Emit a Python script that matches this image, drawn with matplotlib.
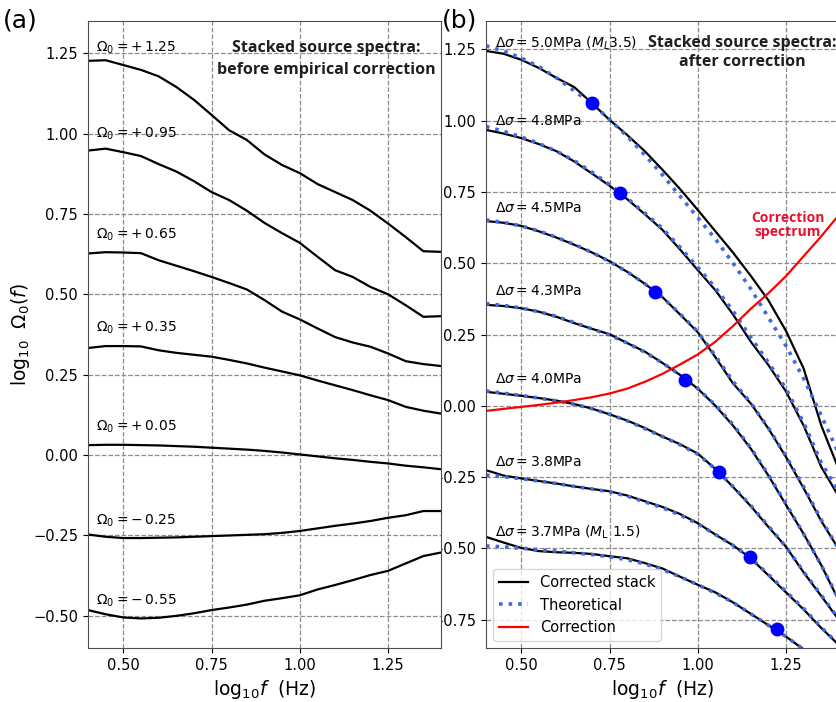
import numpy as np
import matplotlib.pyplot as plt

# frecuencias (log10 f) comunes a todas las curvas
logf = [0.40, 0.45, 0.50, 0.55, 0.60, 0.65, 0.70, 0.75, 0.80, 0.85, 0.90,
        0.95, 1.00, 1.05, 1.10, 1.15, 1.20, 1.25, 1.30, 1.35, 1.40]

# panel (a): espectros apilados antes de la correccion
antes_labels = [r"+\:1.25", r"+\:0.95", r"+\:0.65", r"+\:0.35", r"+\:0.05", r"-\:0.25", r"-\:0.55"]
antes_label_y = [1.267, 1.000, 0.684, 0.395, 0.088, -0.205, -0.453]
antes_1 = [1.226, 1.228, 1.213, 1.198, 1.178, 1.145, 1.105, 1.058, 1.010, 0.980, 0.935,
           0.902, 0.877, 0.843, 0.818, 0.793, 0.760, 0.720, 0.678, 0.634, 0.632]
antes_2 = [0.947, 0.953, 0.942, 0.930, 0.905, 0.882, 0.852, 0.818, 0.793, 0.760, 0.722,
           0.690, 0.660, 0.617, 0.575, 0.554, 0.523, 0.500, 0.466, 0.430, 0.432]
antes_3 = [0.627, 0.631, 0.630, 0.628, 0.606, 0.589, 0.572, 0.554, 0.535, 0.515, 0.482,
           0.446, 0.422, 0.394, 0.367, 0.350, 0.337, 0.316, 0.292, 0.283, 0.277]
antes_4 = [0.333, 0.339, 0.339, 0.338, 0.326, 0.318, 0.312, 0.306, 0.296, 0.285, 0.272,
           0.260, 0.248, 0.232, 0.217, 0.202, 0.186, 0.171, 0.150, 0.138, 0.129]
antes_5 = [0.031, 0.032, 0.032, 0.031, 0.030, 0.028, 0.026, 0.023, 0.020, 0.017, 0.013,
           0.008, 0.002, -0.004, -0.010, -0.015, -0.021, -0.026, -0.033, -0.038, -0.044]
antes_6 = [-0.247, -0.254, -0.258, -0.258, -0.257, -0.256, -0.254, -0.252, -0.250, -0.248, -0.246,
           -0.242, -0.236, -0.228, -0.220, -0.213, -0.205, -0.195, -0.187, -0.174, -0.174]
antes_7 = [-0.482, -0.495, -0.505, -0.508, -0.506, -0.500, -0.492, -0.482, -0.474, -0.465, -0.453,
           -0.445, -0.436, -0.418, -0.404, -0.389, -0.373, -0.360, -0.337, -0.314, -0.303]

# panel (b): espectros corregidos (negro) y teoricos (azul)
despues_labels = [r"$\Delta\sigma = 5.0$MPa ($M_L$3.5)", r"$\Delta\sigma = 4.8$MPa",
                  r"$\Delta\sigma = 4.5$MPa", r"$\Delta\sigma = 4.3$MPa",
                  r"$\Delta\sigma = 4.0$MPa", r"$\Delta\sigma = 3.8$MPa",
                  r"$\Delta\sigma = 3.7$MPa ($M_\mathrm{L}$ 1.5)"]
despues_label_y = [1.272, 1.000, 0.693, 0.404, 0.094, -0.199, -0.445]

corr_A = [1.245, 1.235, 1.214, 1.185, 1.150, 1.118, 1.062, 1.003, 0.950, 0.893, 0.828,
          0.760, 0.687, 0.612, 0.537, 0.456, 0.370, 0.262, 0.130, -0.070, -0.225]
corr_B = [0.968, 0.955, 0.939, 0.918, 0.893, 0.857, 0.815, 0.772, 0.725, 0.672, 0.617,
          0.548, 0.476, 0.405, 0.320, 0.225, 0.143, 0.050, -0.070, -0.215, -0.320]
corr_C = [0.648, 0.642, 0.631, 0.612, 0.590, 0.565, 0.538, 0.507, 0.470, 0.428, 0.381,
          0.320, 0.258, 0.170, 0.078, 0.008, -0.080, -0.180, -0.290, -0.405, -0.505]
corr_D = [0.354, 0.350, 0.342, 0.330, 0.312, 0.290, 0.270, 0.251, 0.220, 0.190, 0.150,
          0.108, 0.060, 0.000, -0.070, -0.150, -0.245, -0.348, -0.450, -0.560, -0.685]
corr_E = [0.049, 0.042, 0.035, 0.027, 0.018, 0.006, -0.010, -0.030, -0.052, -0.078, -0.108,
          -0.135, -0.168, -0.222, -0.285, -0.352, -0.425, -0.495, -0.585, -0.668, -0.752]
corr_F = [-0.226, -0.245, -0.255, -0.264, -0.273, -0.283, -0.292, -0.300, -0.315, -0.335, -0.355,
          -0.380, -0.412, -0.452, -0.490, -0.535, -0.595, -0.655, -0.715, -0.780, -0.840]
corr_G = [-0.460, -0.480, -0.499, -0.510, -0.514, -0.516, -0.520, -0.528, -0.535, -0.552, -0.571,
          -0.600, -0.628, -0.655, -0.690, -0.730, -0.770, -0.810, -0.855, -0.900, -0.950]

teo_A = [1.263, 1.245, 1.220, 1.190, 1.150, 1.105, 1.060, 1.005, 0.945, 0.880, 0.810,
         0.735, 0.660, 0.585, 0.500, 0.410, 0.310, 0.210, 0.095, -0.035, -0.170]
teo_B = [0.980, 0.963, 0.943, 0.920, 0.893, 0.860, 0.820, 0.776, 0.728, 0.676, 0.622,
         0.556, 0.486, 0.414, 0.332, 0.240, 0.152, 0.060, -0.060, -0.200, -0.305]
teo_C = [0.652, 0.643, 0.631, 0.613, 0.591, 0.566, 0.538, 0.506, 0.470, 0.428, 0.380,
         0.322, 0.260, 0.175, 0.085, 0.010, -0.078, -0.178, -0.285, -0.400, -0.505]
teo_D = [0.358, 0.352, 0.343, 0.330, 0.313, 0.292, 0.270, 0.248, 0.220, 0.188, 0.150,
         0.108, 0.060, 0.002, -0.066, -0.148, -0.242, -0.345, -0.450, -0.560, -0.680]
teo_E = [0.052, 0.044, 0.036, 0.027, 0.017, 0.005, -0.010, -0.030, -0.053, -0.080, -0.108,
         -0.137, -0.170, -0.222, -0.284, -0.350, -0.422, -0.495, -0.583, -0.665, -0.750]
teo_F = [-0.243, -0.249, -0.256, -0.264, -0.273, -0.283, -0.292, -0.302, -0.317, -0.337, -0.358,
         -0.383, -0.414, -0.452, -0.490, -0.535, -0.592, -0.652, -0.712, -0.778, -0.838]
teo_G = [-0.492, -0.495, -0.500, -0.505, -0.510, -0.516, -0.522, -0.530, -0.540, -0.555, -0.575,
         -0.600, -0.628, -0.657, -0.690, -0.730, -0.770, -0.810, -0.855, -0.900, -0.950]

# frecuencias de esquina (puntos azules)
fc_x = [0.699, 0.781, 0.880, 0.965, 1.059, 1.147, 1.223]
fc_y = [1.063, 0.747, 0.400, 0.090, -0.232, -0.532, -0.784]

# espectro de correccion (rojo)
correccion = [-0.018, -0.011, -0.004, 0.003, 0.011, 0.020, 0.030, 0.043, 0.060, 0.084, 0.112,
              0.145, 0.180, 0.225, 0.280, 0.340, 0.395, 0.455, 0.525, 0.595, 0.670]

antes = [antes_1, antes_2, antes_3, antes_4, antes_5, antes_6, antes_7]
corregidos = [corr_A, corr_B, corr_C, corr_D, corr_E, corr_F, corr_G]
teoricos = [teo_A, teo_B, teo_C, teo_D, teo_E, teo_F, teo_G]

fig = plt.figure(figsize=(8.37, 7.02), dpi=100)
ax1 = fig.add_axes([0.1051, 0.0769, 0.4218, 0.8932])
ax2 = fig.add_axes([0.5806, 0.0769, 0.4218, 0.8932])
ax1.set_zorder(2)  # tapa el signo menos de las etiquetas del panel b
ax2.set_zorder(1)

for ax in [ax1, ax2]:
    ax.set_xlim(0.4, 1.4)
    ax.set_xticks([0.5, 0.75, 1.0, 1.25])
    ax.grid(True, linestyle='--', color='0.55', linewidth=0.9)
    ax.set_axisbelow(True)
    ax.tick_params(labelsize=10.5)
    ax.set_xlabel(r"log$_{10}f$  (Hz)", fontsize=13.5)
    for s in ax.spines.values():
        s.set_color('0.3')

# ---- panel (a)
for i in range(len(antes)):
    ax1.plot(logf, antes[i], color='k', lw=1.6)
    ax1.text(0.423, antes_label_y[i], r"$\Omega_0 = %s$" % antes_labels[i],
             fontsize=10, va='center')
ax1.set_ylim(-0.6, 1.35)
ax1.set_yticks([-0.5, -0.25, 0.0, 0.25, 0.5, 0.75, 1.0, 1.25])
ax1.set_ylabel(r"log$_{10}$  $\Omega_0(f)$", fontsize=13.5, labelpad=1)
ax1.text(0.674, 0.940, "Stacked source spectra:\nbefore empirical correction",
         transform=ax1.transAxes, ha='center', va='center', fontsize=11.5,
         family='Open Sans', weight='bold', color='0.12', linespacing=1.5)

# ---- panel (b)
for i in range(len(corregidos)):
    lbl1 = "Corrected stack" if i == 0 else None
    lbl2 = "Theoretical" if i == 0 else None
    ax2.plot(logf, corregidos[i], color='k', lw=1.6, label=lbl1)
    ax2.plot(logf, teoricos[i], color='royalblue', ls=':', lw=2.6, label=lbl2)
    ax2.text(0.426, despues_label_y[i], despues_labels[i], fontsize=10, va='center')
ax2.plot(logf, correccion, color='red', lw=1.6, label="Correction")
ax2.plot(fc_x, fc_y, 'o', color='blue', ms=9, zorder=5)
ax2.set_ylim(-0.85, 1.35)
ax2.set_yticks([-0.75, -0.5, -0.25, 0.0, 0.25, 0.5, 0.75, 1.0, 1.25])
ax2.text(0.725, 0.950, "Stacked source spectra:\nafter correction",
         transform=ax2.transAxes, ha='center', va='center', fontsize=11.5,
         family='Open Sans', weight='bold', color='0.12', linespacing=1.3)
ax2.text(1.254, 0.634, "Correction\nspectrum", ha='center', va='center', fontsize=10,
         family='Open Sans', weight='bold', color='#e8112d', linespacing=0.95)
ax2.legend(loc='lower left', fontsize=10.5, borderaxespad=0.5)

fig.text(0.004, 0.988, "(a)", fontsize=18, va='top')
fig.text(0.528, 0.988, "(b)", fontsize=18, va='top')

plt.savefig("out.png", dpi=100)
